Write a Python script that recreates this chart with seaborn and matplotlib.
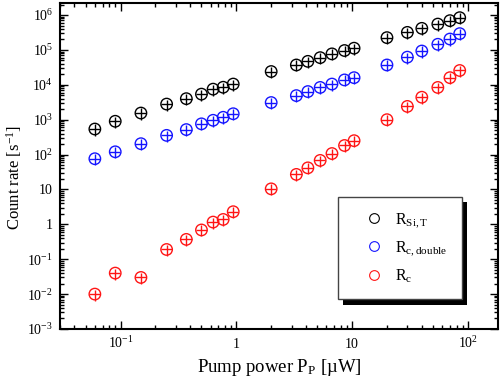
import numpy as np
import pandas as pd
import matplotlib
matplotlib.use("Agg")
import matplotlib.pyplot as plt
import matplotlib.ticker as mticker
from matplotlib.lines import Line2D
import matplotlib.patheffects as pe
import seaborn as sns

# pump power in uW
power = [0.06, 0.09, 0.15, 0.25, 0.37, 0.5, 0.63, 0.77, 0.94,
         2, 3.3, 4.15, 5.3, 6.7, 8.6, 10.4,
         20, 30, 40, 55, 70, 85]

r_si_t = [540, 900, 1550, 2800, 4000, 5400, 7500, 8500, 10500,
          24000, 37000, 47000, 60000, 77000, 96000, 112000,
          225000, 318000, 415000, 550000, 690000, 840000]
r_c_double = [76, 120, 205, 355, 520, 760, 960, 1170, 1480,
              3100, 4900, 6400, 8400, 10500, 13800, 16000,
              37000, 62000, 93000, 145000, 205000, 293000]
r_c = [0.01, 0.04, 0.03, 0.19, 0.37, 0.69, 1.16, 1.38, 2.3,
       10.4, 27, 41.6, 68, 107, 182, 250,
       1000, 2400, 4400, 8400, 16000, 25700]

labels = [r"R$_{\rm Si,T}$", r"R$_{\rm c,double}$", r"R$_{\rm c}$"]
colors = ["black", "#1515ff", "#ff1515"]
xerr_rel = 0.11
yerr_rel = 0.35

sns.set_theme(style="ticks")
plt.rcParams["font.family"] = ["Liberation Serif", "DejaVu Serif"]
plt.rcParams["mathtext.fontset"] = "custom"
plt.rcParams["mathtext.rm"] = "Liberation Serif"
plt.rcParams["mathtext.it"] = "Liberation Serif:italic"
plt.rcParams["mathtext.default"] = "regular"
plt.rcParams["text.color"] = "black"
plt.rcParams["axes.labelcolor"] = "black"

fig = plt.figure(figsize=(5, 3.85), dpi=100)
ax = fig.add_axes([0.12, 0.1455, 0.876, 0.8465])

for ys, c in zip([r_si_t, r_c_double, r_c], colors):
    x = np.array(power)
    y = np.array(ys)
    ax.errorbar(x, y, xerr=x * xerr_rel, yerr=y * yerr_rel, fmt="none",
                ecolor=c, elinewidth=1, capsize=0, zorder=2)
    sns.scatterplot(x=x, y=y, ax=ax, marker="o", s=68, facecolors="none",
                    edgecolors=c, linewidth=1, zorder=3)

ax.set_xscale("log")
ax.set_yscale("log")
ax.set_xlim(0.03, 182)
ax.set_ylim(1e-3, 2.2e6)


def fmt(v, pos):
    e = int(round(np.log10(v)))
    if e == 0:
        return "1"
    if e == 1:
        return "10"
    return r"10$^{%d}$" % e


ax.xaxis.set_major_formatter(mticker.FuncFormatter(fmt))
ax.yaxis.set_major_formatter(mticker.FuncFormatter(fmt))
ax.yaxis.set_major_locator(mticker.LogLocator(base=10, numticks=20))
ax.yaxis.set_minor_locator(mticker.LogLocator(base=10, subs=np.arange(2, 10), numticks=20))
ax.xaxis.set_minor_formatter(mticker.NullFormatter())
ax.yaxis.set_minor_formatter(mticker.NullFormatter())
ax.tick_params(which="both", direction="in", top=True, right=True,
               colors="black", width=1, labelsize=10)
ax.tick_params(which="major", length=6)
ax.tick_params(which="minor", length=3)
ax.tick_params(axis="x", pad=14)
ax.tick_params(axis="y", pad=5)
for lab in ax.get_xticklabels():
    lab.set_verticalalignment("baseline")
for s in ax.spines.values():
    s.set_color("black")
    s.set_linewidth(1.5)

ax.set_xlabel(r"Pump power P$_{\rm P}$ [µW]", fontsize=13.5, labelpad=4)
ax.set_ylabel(r"Count rate [s$^{-1}$]", fontsize=12)
ax.yaxis.set_label_coords(-0.082, 0.466)

handles = [Line2D([], [], linestyle="none", marker="o", markersize=7,
                  markerfacecolor="none", markeredgecolor=c, markeredgewidth=0.8)
           for c in colors]
leg = ax.legend(handles, labels, loc="upper left",
                bbox_to_anchor=(0.634, 0.406), fontsize=11.5, frameon=True,
                fancybox=False, borderpad=0.9, labelspacing=0.6,
                handlelength=2.7, handletextpad=0.0, borderaxespad=0)
frame = leg.get_frame()
frame.set_edgecolor("#444444")
frame.set_linewidth(1)
frame.set_alpha(1)
frame.set_path_effects([pe.SimplePatchShadow(offset=(3.8, -3.8), shadow_rgbFace="black", alpha=1),
                        pe.Normal()])

fig.savefig("out.png", dpi=100)
